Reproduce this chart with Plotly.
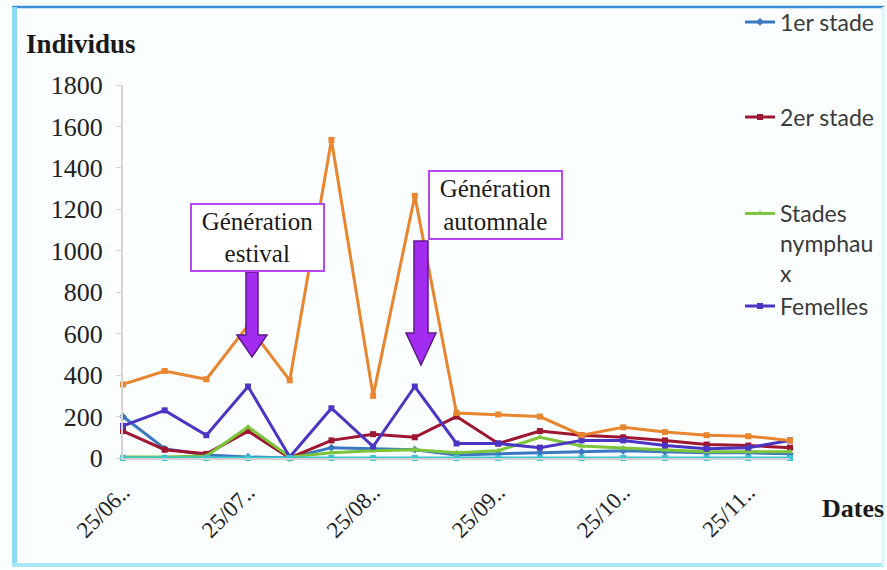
import plotly.graph_objects as go

# Sampling dates (every ~10 days) and the visible tick labels
dates = ["25/06", "05/07", "15/07", "25/07", "04/08", "14/08", "25/08", "04/09",
         "14/09", "25/09", "05/10", "15/10", "25/10", "04/11", "14/11", "25/11", "05/12"]
tick_dates = ["25/06", "25/07", "25/08", "25/09", "25/10", "25/11"]
tick_labels = ["25/06..", "25/07..", "25/08..", "25/09..", "25/10..", "25/11.."]

# Counts of individuals per stage
stade1 = [200, 45, 15, 5, 0, 50, 45, 40, 15, 20, 25, 30, 35, 30, 25, 25, 20]
stade2 = [130, 40, 20, 130, 0, 85, 115, 100, 200, 70, 130, 110, 100, 85, 65, 60, 50]
nymphes = [5, 5, 10, 150, 5, 25, 35, 40, 25, 35, 100, 58, 48, 40, 30, 30, 30]
femelles = [155, 230, 110, 345, 5, 240, 55, 345, 70, 70, 50, 85, 85, 60, 45, 50, 85]
males = [0, 0, 0, 0, 0, 0, 0, 0, 0, 0, 0, 0, 0, 0, 0, 0, 0]
total = [355, 420, 380, 640, 375, 1535, 300, 1265, 217, 210, 200, 110, 148, 125, 110, 105, 85]

W, H = 887, 570
ML, MR, MT, MB = 123, 97, 85, 112
PW, PH = W - ML - MR, H - MT - MB


# Pixel position -> plot-area ("paper") fraction
def fx(x):
    return (x - ML) / PW


def fy(y):
    return (H - MB - y) / PH


# Pixel position -> whole-figure ("container") fraction
def cx(x):
    return x / W


def cy(y):
    return 1 - y / H


fig = go.Figure()

series = [
    ("1er stade", stade1, "#3B78C2", "diamond", "legend", True),
    ("2er stade", stade2, "#9E1630", "square", "legend2", True),
    ("Stades<br>nymphau<br>x", nymphes, "#7CC43A", "triangle-up", "legend3", True),
    ("Femelles", femelles, "#4A35C4", "square", "legend4", True),
    ("Mâles", males, "#3EC3D3", "square", "legend", False),
    ("Total", total, "#E8852F", "square", "legend", False),
]

for name, vals, color, sym, leg, show in series:
    fig.add_trace(go.Scatter(
        x=dates, y=vals, name=name, mode="lines+markers",
        line=dict(color=color, width=3),
        marker=dict(color=color, size=6, symbol=sym),
        legend=leg, showlegend=show, cliponaxis=False,
    ))

# Outer frame
frame = [((12, 7), (884, 7), "#3A8EDC", 2.5),
         ((14.5, 7), (14.5, 566), "#8ED9F4", 5),
         ((12, 565), (884, 565), "#A8E8F8", 4),
         ((883, 7), (883, 566), "#D8F4FC", 3)]
for (x0, y0), (x1, y1), col, wd in frame:
    fig.add_shape(type="line", xref="paper", yref="paper", x0=fx(x0), x1=fx(x1),
                  y0=fy(y0), y1=fy(y1), line=dict(color=col, width=wd))


# Block arrows pointing to the generation peaks
def block_arrow(ax, top, head_top, tip, shaft_hw, head_hw):
    pts = [(ax - shaft_hw, top), (ax + shaft_hw, top), (ax + shaft_hw, head_top),
           (ax + head_hw, head_top), (ax, tip), (ax - head_hw, head_top),
           (ax - shaft_hw, head_top)]
    path = "M " + " L ".join(f"{fx(x):.5f},{fy(y):.5f}" for x, y in pts) + " Z"
    fig.add_shape(type="path", xref="paper", yref="paper", path=path,
                  fillcolor="#A32CF0", line=dict(color="#5B1A8A", width=1.5))


block_arrow(252, 272, 335, 357, 6, 15)
block_arrow(421, 241, 333, 365, 7, 15)

# Labelled boxes
for text, x0, x1, y0, y1 in [("Génération<br>estival", 190, 325, 203, 272),
                             ("Génération<br>automnale", 428, 563, 170, 240)]:
    fig.add_annotation(
        xref="paper", yref="paper", x=fx((x0 + x1) / 2), y=fy((y0 + y1) / 2),
        text=text, showarrow=False, xanchor="center", yanchor="middle",
        width=x1 - x0 - 4, height=y1 - y0 - 4, borderpad=0,
        bordercolor="#B548EE", borderwidth=2, bgcolor="#FFFFFF",
        font=dict(family="Liberation Serif", size=25, color="#1A1A1A"),
    )

# Axis titles
fig.add_annotation(xref="paper", yref="paper", x=fx(24), y=fy(44), text="<b>Individus</b>",
                   showarrow=False, xanchor="left", yanchor="middle",
                   font=dict(family="Liberation Serif", size=27, color="#1A1A1A"))
fig.add_annotation(xref="paper", yref="paper", x=fx(820), y=fy(508), text="<b>Dates</b>",
                   showarrow=False, xanchor="left", yanchor="middle",
                   font=dict(family="Liberation Serif", size=26, color="#1A1A1A"))

leg_font = dict(family="Lato", size=23, color="#3A3A3A")
leg_common = dict(xref="container", yref="container", xanchor="left",
                  bgcolor="rgba(0,0,0,0)", font=leg_font, itemwidth=30,
                  valign="top", tracegroupgap=0)

fig.update_layout(
    width=W, height=H,
    margin=dict(l=ML, r=MR, t=MT, b=MB, autoexpand=False),
    paper_bgcolor="#FBFEFF", plot_bgcolor="#FBFEFF",
    xaxis=dict(type="category", categoryorder="array", categoryarray=dates,
               range=[0, 16], tickmode="array", tickvals=tick_dates, ticktext=tick_labels,
               tickangle=-45, showgrid=False, showline=True, linecolor="#D0D0D0", linewidth=1.5,
               ticks="", ticklabelstandoff=10,
               tickfont=dict(family="Liberation Serif", size=23, color="#222222"),
               zeroline=False),
    yaxis=dict(range=[0, 1800], dtick=200, showgrid=False, showline=True,
               linecolor="#D4D4D4", linewidth=2, ticks="outside", ticklen=5, tickcolor="#D4D4D4",
               ticklabelstandoff=8,
               tickfont=dict(family="Liberation Serif", size=26, color="#222222"),
               zeroline=False),
    legend=dict(x=cx(740), y=cy(22), yanchor="middle", **leg_common),
    legend2=dict(x=cx(740), y=cy(117), yanchor="middle", **leg_common),
    legend3=dict(x=cx(740), y=cy(192), yanchor="top", **leg_common),
    legend4=dict(x=cx(740), y=cy(306), yanchor="middle", **leg_common),
    showlegend=True,
)

fig.write_html("out.html")
